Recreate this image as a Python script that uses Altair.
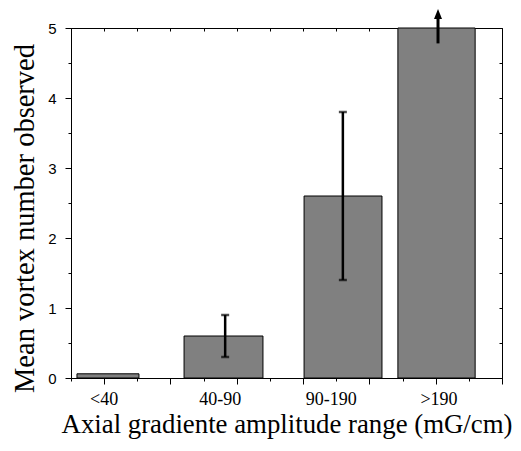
import altair as alt
import pandas as pd

# ---- data ----
categories = ["<40", "40-90", "90-190", ">190"]
bar_left = [0.18, 3.41, 7.03, 9.86]
bar_right = [2.05, 5.79, 9.38, 12.19]
mean_vortex = [0.06, 0.6, 2.6, 5.0]
label_pos = [1.0, 4.5, 7.85, 11.1]

err_center = [4.65, 8.2]
err_low = [0.3, 1.4]
err_high = [0.9, 3.8]

arrow_center = [11.07]
arrow_low = [4.78]
arrow_high = [5.15]
arrow_head = [5.2]

x_ticks = list(range(0, 14))
y_ticks = [i * 0.5 for i in range(11)]

bars = pd.DataFrame({"category": categories, "left": bar_left,
                     "right": bar_right, "mean": mean_vortex})
labels = pd.DataFrame({"category": categories, "pos": label_pos})
errs = pd.DataFrame({"center": err_center, "low": err_low, "high": err_high})
arrow = pd.DataFrame({"center": arrow_center, "low": arrow_low,
                      "high": arrow_high, "head": arrow_head})

xs = alt.Scale(domain=[0, 13], nice=False, zero=False)
ys = alt.Scale(domain=[0, 5], nice=False, zero=False)

SERIF = "Liberation Serif"
SANS = "Liberation Sans"

base_bars = alt.Chart(bars).mark_rect(
    color="#808080", stroke="black", strokeWidth=1
).encode(
    x=alt.X("left:Q", scale=xs, axis=alt.Axis(
        values=x_ticks, labels=False, grid=False,
        tickSize={"condition": {"test": "datum.value % 2 == 1", "value": 6}, "value": 3},
        title="Axial gradiente amplitude range (mG/cm)",
        titleFont=SERIF, titleFontSize=26.8, titleFontWeight="normal",
        titleBaseline="alphabetic", titleY=54, titleColor="black")),
    x2="right:Q",
    y=alt.Y("mean:Q", scale=ys, axis=alt.Axis(
        values=y_ticks, grid=False,
        labelExpr="datum.value % 1 == 0 ? format(datum.value, 'd') : ''",
        labelFont=SANS, labelFontSize=15, labelPadding=9, labelColor="black",
        tickSize={"condition": {"test": "datum.value % 1 == 0", "value": 6}, "value": 3},
        title="Mean vortex number observed",
        titleFont=SERIF, titleFontSize=28.5, titleFontWeight="normal",
        titleAngle=270, titleBaseline="alphabetic", titleX=-38, titleY=190,
        titleColor="black")),
    y2=alt.datum(0),
)

err_rule = alt.Chart(errs).mark_rule(color="black", strokeWidth=2.5).encode(
    x=alt.X("center:Q", scale=xs, axis=alt.Axis(
        orient="top", values=x_ticks, labels=False, domain=False, grid=False,
        tickSize=3, offset=-3, title=None)),
    y=alt.Y("low:Q", scale=ys, axis=alt.Axis(
        orient="right", values=y_ticks, labels=False, domain=False, grid=False,
        tickSize=3, offset=-3, title=None)),
    y2="high:Q",
)

caps = alt.Chart(errs).transform_fold(["low", "high"], as_=["end", "val"]).mark_tick(
    color="black", orient="horizontal", thickness=2.5, size=8
).encode(
    x=alt.X("center:Q", scale=xs, axis=None),
    y=alt.Y("val:Q", scale=ys, axis=None),
)

shaft = alt.Chart(arrow).mark_rule(color="black", strokeWidth=3).encode(
    x=alt.X("center:Q", scale=xs, axis=None),
    y=alt.Y("low:Q", scale=ys, axis=None),
    y2="high:Q",
)

head = alt.Chart(arrow).mark_point(
    shape="M0,-1L0.8,1L-0.8,1Z", filled=True, color="black", opacity=1, size=100
).encode(
    x=alt.X("center:Q", scale=xs, axis=None),
    y=alt.Y("head:Q", scale=ys, axis=None),
)

text = alt.Chart(labels).mark_text(
    font=SERIF, fontSize=18, baseline="alphabetic", align="center", color="black"
).encode(
    x=alt.X("pos:Q", scale=xs, axis=None),
    y=alt.value(377),
    text="category:N",
)

chart = alt.layer(base_bars, err_rule, caps, shaft, head, text).resolve_axis(
    x="independent", y="independent"
).properties(
    width=431, height=350,
    padding={"left": 63, "top": 20, "right": 11, "bottom": 65},
    autosize=alt.AutoSizeParams(type="none"),
).configure_view(stroke="black", strokeWidth=1).configure_axis(
    domainColor="black", tickColor="black", domainWidth=1, tickWidth=1
)

chart.save("out.html", embed_options={"renderer": "svg", "actions": False})
